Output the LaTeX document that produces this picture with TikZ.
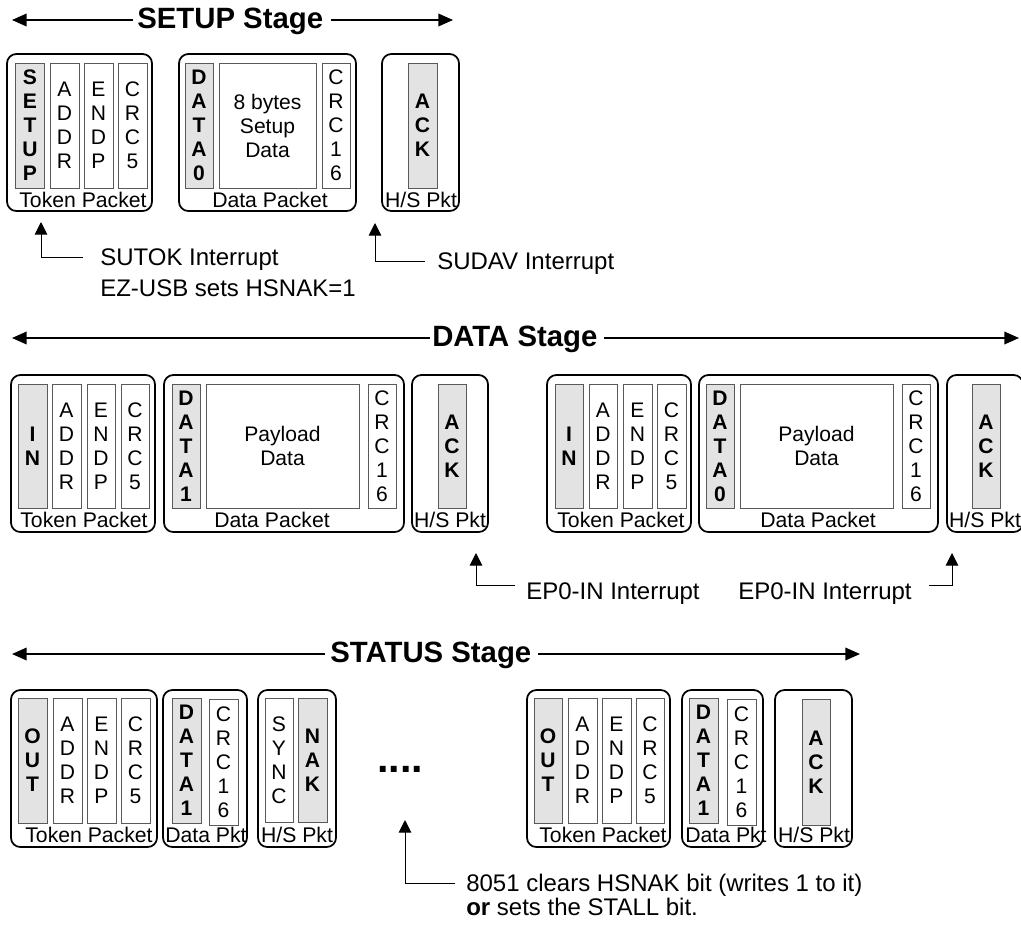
\documentclass[tikz,border=0pt]{standalone}
\usepackage{fontspec}
\setmainfont{Liberation Sans}
\usetikzlibrary{arrows.meta,fit}
% #1 style, #2 name, #3 x1, #4 y1, #5 x2, #6 y2 (pixel units); the node text follows
\newcommand\fieldnode[6]{\node[#1, minimum width={(#5-#3)*0.75pt}, minimum height={(#6-#4)*0.75pt}] (#2) at ({(#3+#5)/2},{(#4+#6)/2})}
\begin{document}
\begin{tikzpicture}[x=0.75pt,y=-0.75pt,
 pktbox/.style={draw, line width=1.3pt, rounded corners=7pt, inner sep=0pt},
 fieldbox/.style={draw=black!65, line width=0.75pt, inner sep=0pt, align=center, font=\fontsize{15.8}{18}\selectfont},
 pidbox/.style={fieldbox, fill=black!11, font=\fontsize{15.8}{18}\selectfont\bfseries},
 pktlabel/.style={anchor=base, inner sep=0pt, font=\fontsize{15.9}{18}\selectfont},
 notetext/.style={anchor=west, inner sep=0pt, text height=13pt, text depth=0pt, font=\fontsize{18}{21}\selectfont},
 stagetitle/.style={anchor=west, inner sep=0pt, text height=15.8pt, text depth=3pt, font=\fontsize{22}{26}\selectfont\bfseries},
 stageline/.style={line width=1.1pt, -{Triangle[length=11pt,width=9.5pt]}},
 intarrow/.style={line width=0.75pt, -{Triangle[length=9.5pt,width=9.5pt]}},
 dotsnode/.style={anchor=base, inner sep=0pt, font=\fontsize{31}{34}\selectfont\bfseries}
]
\useasboundingbox (0,0) rectangle (1021,926);

% ================= SETUP stage =================
\node[stagetitle] (sT) at (137,20) {SETUP Stage};
\coordinate (sTl) at (12,20);
\coordinate (sTr) at (453,20);
\draw[stageline, shorten <=3pt] (sT.west) -- (sTl);
\draw[stageline, shorten <=6pt] (sT.east) -- (sTr);

\node[pktbox, fit={(7,54)(152,211)}] (sTok) {};
\fieldnode{pidbox}{sPid}{15.7}{63}{44.3}{188} {S\\E\\T\\U\\P};
\fieldnode{fieldbox}{sAddr}{50}{63}{79}{188} {A\\D\\D\\R};
\fieldnode{fieldbox}{sEndp}{84}{63}{113}{188} {E\\N\\D\\P};
\fieldnode{fieldbox}{sCrc5}{118}{63}{147}{188} {C\\R\\C\\5};
\node[pktlabel] (sTokL) at (83,207) {Token Packet};

\node[pktbox, fit={(179,54)(356,211)}] (sDat) {};
\fieldnode{pidbox}{sD0}{185}{63}{213}{188} {D\\A\\T\\A\\0};
\fieldnode{fieldbox}{sPay}{219}{63}{316}{188} {8 bytes\\Setup\\Data};
\fieldnode{fieldbox}{sCrc16}{322}{63}{350}{188} {C\\R\\C\\1\\6};
\node[pktlabel] (sDatL) at (270,207) {Data Packet};

\node[pktbox, fit={(382,54)(459,211)}] (sHs) {};
\fieldnode{pidbox}{sAck}{408}{63}{437}{188} {A\\C\\K};
\node[pktlabel] (sHsL) at (421,207) {H/S Pkt};

\node[notetext] (sutok) at (100,257) {SUTOK Interrupt};
\node[notetext] (sutokb) at (100,288) {EZ-USB sets HSNAK=1};
\coordinate (sutokTip) at (41,222);
\draw[intarrow, shorten <=12.75pt] (sutok.west) -| (sutokTip);

\node[notetext] (sudav) at (437,261) {SUDAV Interrupt};
\coordinate (sudavTip) at (375,223);
\draw[intarrow, shorten <=9pt] (sudav.west) -| (sudavTip);

% ================= DATA stage =================
\node[stagetitle] (dT) at (432,338) {DATA Stage};
\coordinate (dTl) at (12,338);
\coordinate (dTr) at (1019,338);
\draw[stageline, shorten <=1.5pt] (dT.west) -- (dTl);
\draw[stageline, shorten <=5pt] (dT.east) -- (dTr);

% left transaction
\node[pktbox, fit={(11,375)(155,532)}] (dTok1) {};
\fieldnode{pidbox}{dPid1}{18}{384}{47}{508} {I\\N};
\fieldnode{fieldbox}{dAddr1}{52}{384}{81}{508} {A\\D\\D\\R};
\fieldnode{fieldbox}{dEndp1}{87}{384}{115}{508} {E\\N\\D\\P};
\fieldnode{fieldbox}{dCrc51}{121}{384}{149}{508} {C\\R\\C\\5};
\node[pktlabel] (dTokL1) at (84,527) {Token Packet};

\node[pktbox, fit={(164,375)(404,532)}] (dDat1) {};
\fieldnode{pidbox}{dD1}{172}{384}{200}{508} {D\\A\\T\\A\\1};
\fieldnode{fieldbox}{dPay1}{206}{384}{359}{508} {Payload\\Data};
\fieldnode{fieldbox}{dCrc161}{368}{384}{396}{508} {C\\R\\C\\1\\6};
\node[pktlabel] (dDatL1) at (272,527) {Data Packet};

\node[pktbox, fit={(412,375)(488,532)}] (dHs1) {};
\fieldnode{pidbox}{dAck1}{438}{384}{466}{508} {A\\C\\K};
\node[pktlabel] (dHsL1) at (450,527) {H/S Pkt};

% right transaction
\node[pktbox, fit={(547,375)(691,532)}] (dTok2) {};
\fieldnode{pidbox}{dPid2}{555}{384}{583}{508} {I\\N};
\fieldnode{fieldbox}{dAddr2}{589}{384}{617}{508} {A\\D\\D\\R};
\fieldnode{fieldbox}{dEndp2}{623}{384}{652}{508} {E\\N\\D\\P};
\fieldnode{fieldbox}{dCrc52}{657}{384}{686}{508} {C\\R\\C\\5};
\node[pktlabel] (dTokL2) at (621,527) {Token Packet};

\node[pktbox, fit={(699,375)(938,532)}] (dDat2) {};
\fieldnode{pidbox}{dD0}{706}{384}{734}{508} {D\\A\\T\\A\\0};
\fieldnode{fieldbox}{dPay2}{740}{384}{893}{508} {Payload\\Data};
\fieldnode{fieldbox}{dCrc162}{902}{384}{930}{508} {C\\R\\C\\1\\6};
\node[pktlabel] (dDatL2) at (818,527) {Data Packet};

\node[pktbox, fit={(947,375)(1023,532)}] (dHs2) {};
\fieldnode{pidbox}{dAck2}{972}{384}{1000}{508} {A\\C\\K};
\node[pktlabel] (dHsL2) at (985,527) {H/S Pkt};

\node[notetext] (ep1) at (526,591) {EP0-IN Interrupt};
\coordinate (ep1Tip) at (476,553);
\draw[intarrow, shorten <=8pt] ([yshift=4pt]ep1.west) -| (ep1Tip);

\node[notetext] (ep2) at (738,591) {EP0-IN Interrupt};
\coordinate (ep2Tip) at (952,553);
\draw[intarrow, shorten <=12.75pt] ([yshift=4pt]ep2.east) -| (ep2Tip);

% ================= STATUS stage =================
\node[stagetitle] (tT) at (330,654) {STATUS Stage};
\coordinate (tTl) at (12,654);
\coordinate (tTr) at (860,654);
\draw[stageline, shorten <=3.75pt] (tT.west) -- (tTl);
\draw[stageline, shorten <=5pt] (tT.east) -- (tTr);

% left transaction
\node[pktbox, fit={(11,690)(157,847)}] (tTok1) {};
\fieldnode{pidbox}{tPid1}{18}{698}{47}{823} {O\\U\\T};
\fieldnode{fieldbox}{tAddr1}{53}{698}{82}{823} {A\\D\\D\\R};
\fieldnode{fieldbox}{tEndp1}{87}{698}{116}{823} {E\\N\\D\\P};
\fieldnode{fieldbox}{tCrc51}{121}{698}{150}{823} {C\\R\\C\\5};
\node[pktlabel] (tTokL1) at (89,842) {Token Packet};

\node[pktbox, fit={(163,690)(247,847)}] (tDat1) {};
\fieldnode{pidbox}{tD1a}{172}{698}{201}{823} {D\\A\\T\\A\\1};
\fieldnode{fieldbox}{tCrc161}{209}{699}{238}{825} {C\\R\\C\\1\\6};
\node[pktlabel] (tDatL1) at (206,842) {Data Pkt};

\node[pktbox, fit={(258,690)(336,847)}] (tHs1) {};
\fieldnode{fieldbox}{tSync}{265}{698}{293}{822} {S\\Y\\N\\C};
\fieldnode{pidbox}{tNak}{298}{698}{327}{822} {N\\A\\K};
\node[pktlabel] (tHsL1) at (297,842) {H/S Pkt};

\node[dotsnode] (tDots) at (400,772) {....};

% right transaction
\node[pktbox, fit={(527,690)(670,847)}] (tTok2) {};
\fieldnode{pidbox}{tPid2}{534}{698}{562}{823} {O\\U\\T};
\fieldnode{fieldbox}{tAddr2}{568}{698}{597}{823} {A\\D\\D\\R};
\fieldnode{fieldbox}{tEndp2}{602}{698}{631}{823} {E\\N\\D\\P};
\fieldnode{fieldbox}{tCrc52}{636}{698}{664}{823} {C\\R\\C\\5};
\node[pktlabel] (tTokL2) at (603,842) {Token Packet};

\node[pktbox, fit={(682,690)(763,847)}] (tDat2) {};
\fieldnode{pidbox}{tD1b}{689}{698}{718}{823} {D\\A\\T\\A\\1};
\fieldnode{fieldbox}{tCrc162}{727}{699}{756}{825} {C\\R\\C\\1\\6};
\node[pktlabel] (tDatL2) at (726,842) {Data Pkt};

\node[pktbox, fit={(775,690)(852,847)}] (tHs2) {};
\fieldnode{pidbox}{tAck}{802}{699}{830}{825} {A\\C\\K};
\node[pktlabel] (tHsL2) at (814,842) {H/S Pkt};

\node[notetext] (n8051) at (466,883) {8051 clears HSNAK bit (writes 1 to it)};
\node[notetext] (n8051b) at (466,907) {\textbf{or} sets the STALL bit.};
\coordinate (n8051Tip) at (405,820);
\draw[intarrow, shorten <=8.25pt] (n8051.west) -| (n8051Tip);

\end{tikzpicture}
\end{document}
